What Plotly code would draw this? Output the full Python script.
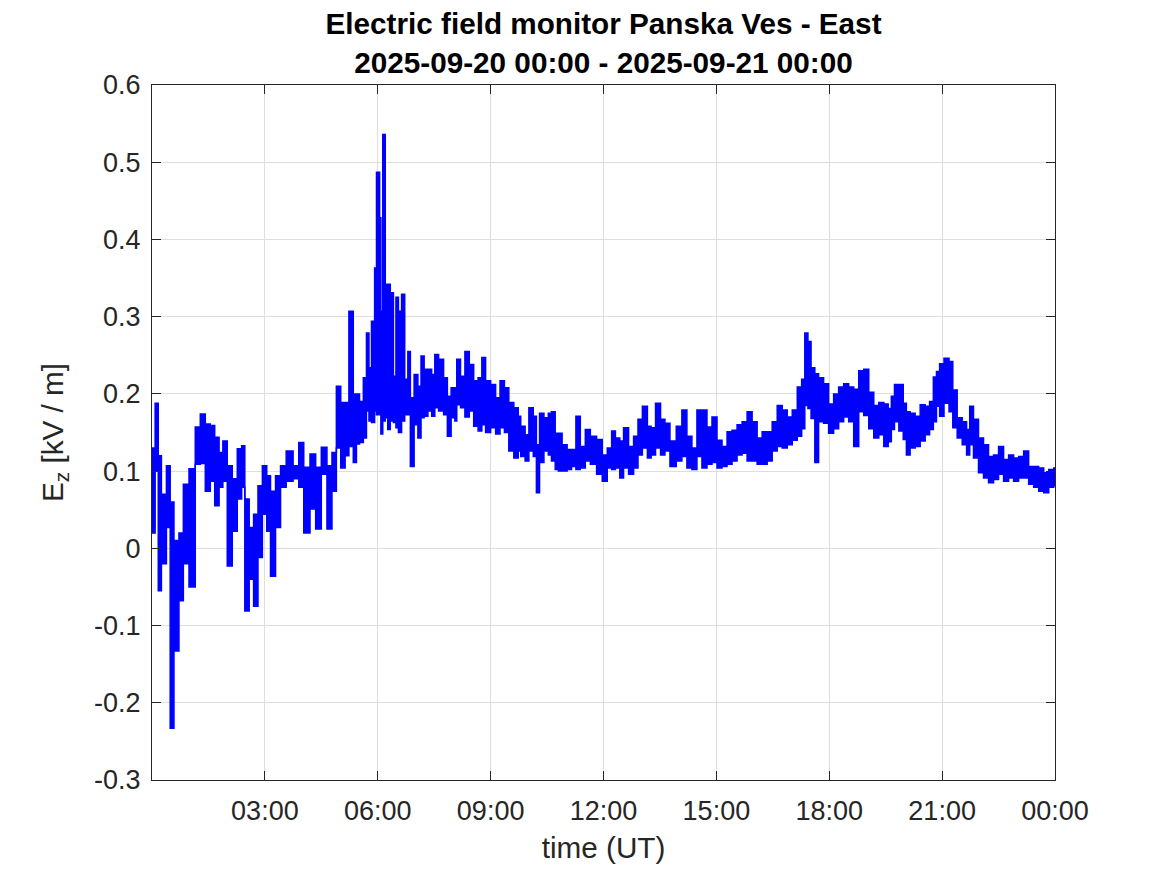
import pandas as pd
import plotly.graph_objects as go

# time of each sample bin, minutes after 2025-09-20 00:00 UT
minutes = [0, 5, 10, 15, 23, 29, 35, 43, 50, 59, 69, 77, 85, 93, 100, 107, 113, 120, 128, 136,
           143, 148, 155, 162, 169, 176, 183, 189, 197, 205, 214, 225, 234, 242, 252, 261, 270, 279, 287, 294,
           301, 308, 314, 321, 326, 331, 337, 342, 346, 350, 355, 358, 363, 365, 368, 372, 376, 380, 385, 389,
           393, 398, 403, 408, 412, 418, 424, 429, 434, 440, 446, 451, 457, 465, 471, 477, 483, 486, 492, 499,
           506, 513, 520, 526, 532, 540, 548, 555, 562, 569, 577, 584, 588, 595, 601, 608, 613, 618, 625, 632,
           637, 643, 648, 654, 662, 669, 676, 683, 691, 699, 709, 718, 726, 733, 739, 746, 752, 760, 768, 775,
           782, 790, 796, 803, 811, 818, 826, 836, 845, 853, 861, 869, 877, 885, 893, 901, 909, 917, 925, 933,
           941, 949, 957, 965, 973, 981, 989, 997, 1005, 1013, 1021, 1029, 1036, 1041, 1046, 1051, 1057, 1063, 1071, 1079,
           1087, 1095, 1103, 1111, 1119, 1127, 1135, 1143, 1151, 1159, 1167, 1174, 1179, 1184, 1191, 1198, 1203, 1209, 1217, 1225,
           1233, 1240, 1246, 1251, 1256, 1263, 1271, 1277, 1284, 1292, 1299, 1304, 1310, 1318, 1326, 1334, 1342, 1350, 1358, 1366,
           1374, 1382, 1390, 1398, 1406, 1414, 1422, 1430, 1438, 1440]

# maximum of Ez within each bin [kV/m]
ez_max = [0.13, 0.188, 0.12, 0.07, 0.107, 0.06, 0.01, 0.02, 0.083, 0.103, 0.157, 0.174, 0.161, 0.159, 0.144, 0.124, 0.139, 0.107, 0.09, 0.129,
          0.133, 0.064, 0.027, 0.044, 0.081, 0.107, 0.094, 0.074, 0.094, 0.107, 0.126, 0.107, 0.137, 0.105, 0.122, 0.105, 0.131, 0.107, 0.124, 0.21,
          0.189, 0.189, 0.307, 0.2, 0.2, 0.19, 0.221, 0.279, 0.234, 0.294, 0.363, 0.487, 0.428, 0.307, 0.536, 0.342, 0.342, 0.331, 0.223, 0.325,
          0.307, 0.329, 0.219, 0.255, 0.195, 0.225, 0.21, 0.249, 0.232, 0.232, 0.225, 0.251, 0.245, 0.221, 0.197, 0.208, 0.208, 0.245, 0.223, 0.255,
          0.238, 0.217, 0.221, 0.247, 0.217, 0.212, 0.195, 0.217, 0.208, 0.189, 0.182, 0.171, 0.158, 0.147, 0.182, 0.171, 0.134, 0.175, 0.169, 0.175,
          0.177, 0.149, 0.149, 0.134, 0.128, 0.128, 0.171, 0.132, 0.154, 0.145, 0.141, 0.121, 0.13, 0.152, 0.143, 0.139, 0.156, 0.132, 0.145, 0.167,
          0.184, 0.158, 0.156, 0.188, 0.167, 0.162, 0.139, 0.158, 0.179, 0.145, 0.13, 0.179, 0.179, 0.157, 0.17, 0.14, 0.132, 0.151, 0.153, 0.16,
          0.164, 0.177, 0.164, 0.143, 0.151, 0.151, 0.164, 0.185, 0.179, 0.17, 0.179, 0.209, 0.219, 0.279, 0.268, 0.234, 0.226, 0.221, 0.213, 0.187,
          0.2, 0.209, 0.213, 0.209, 0.206, 0.23, 0.232, 0.202, 0.185, 0.189, 0.187, 0.181, 0.197, 0.212, 0.212, 0.188, 0.177, 0.175, 0.171, 0.186,
          0.184, 0.19, 0.222, 0.229, 0.239, 0.246, 0.242, 0.205, 0.169, 0.164, 0.154, 0.184, 0.167, 0.143, 0.134, 0.119, 0.121, 0.132, 0.115, 0.121,
          0.117, 0.119, 0.126, 0.106, 0.106, 0.104, 0.098, 0.102, 0.104, 0.1]

# minimum of Ez within each bin [kV/m]
ez_min = [0.02, 0.10, -0.055, -0.02, 0.027, -0.233, -0.133, -0.068, -0.02, -0.05, 0.109, 0.11, 0.074, 0.087, 0.055, 0.079, 0.087, -0.023, 0.022, 0.064,
          0.079, -0.081, -0.04, -0.075, -0.012, 0.044, 0.022, -0.036, 0.027, 0.079, 0.087, 0.09, 0.079, 0.02, 0.051, 0.025, 0.096, 0.025, 0.074, 0.13,
          0.104, 0.12, 0.132, 0.111, 0.135, 0.137, 0.143, 0.178, 0.165, 0.163, 0.178, 0.173, 0.182, 0.148, 0.165, 0.169, 0.154, 0.165, 0.163, 0.156,
          0.15, 0.165, 0.173, 0.173, 0.106, 0.16, 0.143, 0.169, 0.171, 0.178, 0.171, 0.182, 0.178, 0.173, 0.145, 0.169, 0.165, 0.186, 0.182, 0.17,
          0.178, 0.158, 0.152, 0.16, 0.15, 0.156, 0.148, 0.156, 0.15, 0.126, 0.117, 0.126, 0.119, 0.113, 0.126, 0.119, 0.072, 0.111, 0.126, 0.121,
          0.113, 0.102, 0.1, 0.1, 0.102, 0.106, 0.102, 0.104, 0.113, 0.109, 0.096, 0.087, 0.104, 0.102, 0.104, 0.091, 0.104, 0.096, 0.104, 0.121,
          0.13, 0.117, 0.121, 0.13, 0.121, 0.126, 0.106, 0.113, 0.119, 0.104, 0.102, 0.119, 0.104, 0.109, 0.111, 0.104, 0.106, 0.109, 0.113, 0.121,
          0.123, 0.113, 0.113, 0.109, 0.109, 0.113, 0.126, 0.132, 0.13, 0.134, 0.14, 0.145, 0.155, 0.185, 0.181, 0.168, 0.111, 0.164, 0.162, 0.149,
          0.155, 0.164, 0.17, 0.164, 0.132, 0.177, 0.172, 0.155, 0.143, 0.147, 0.132, 0.138, 0.154, 0.164, 0.152, 0.141, 0.121, 0.13, 0.132, 0.139,
          0.147, 0.154, 0.164, 0.184, 0.171, 0.188, 0.177, 0.156, 0.143, 0.134, 0.121, 0.134, 0.117, 0.098, 0.091, 0.085, 0.089, 0.096, 0.087, 0.091,
          0.087, 0.091, 0.091, 0.083, 0.079, 0.074, 0.072, 0.079, 0.081, 0.085]

x_tick_hours = [3, 6, 9, 12, 15, 18, 21, 24]
x_tick_labels = ["03:00", "06:00", "09:00", "12:00", "15:00", "18:00", "21:00", "00:00"]
y_tick_values = [-0.3, -0.2, -0.1, 0, 0.1, 0.2, 0.3, 0.4, 0.5, 0.6]
y_tick_labels = ["-0.3", "-0.2", "-0.1", "0", "0.1", "0.2", "0.3", "0.4", "0.5", "0.6"]

base = pd.Timestamp("2025-09-20 00:00")
times = base + pd.to_timedelta(minutes, unit="min")
tick_times = [base + pd.Timedelta(hours=h) for h in x_tick_hours]

BLUE = "#0000FF"
AX = "#262626"
FONT = "Liberation Sans, Arial, sans-serif"

fig = go.Figure()
fig.add_trace(go.Scatter(x=times, y=ez_min, mode="lines",
                         line=dict(color=BLUE, width=1.5, shape="hv"),
                         showlegend=False, hoverinfo="skip"))
fig.add_trace(go.Scatter(x=times, y=ez_max, mode="lines",
                         line=dict(color=BLUE, width=1.5, shape="hv"),
                         fill="tonexty", fillcolor=BLUE,
                         showlegend=False, hoverinfo="skip"))

axis_common = dict(
    showgrid=True, gridcolor="#dedede", gridwidth=1,
    showline=True, linecolor=AX, linewidth=1.2, mirror="ticks",
    ticks="inside", ticklen=9, tickcolor=AX, tickwidth=1.2,
    tickfont=dict(family=FONT, size=27, color=AX),
    zeroline=False,
)

fig.update_layout(
    width=1159, height=867,
    margin=dict(l=144, r=112, t=77, b=95),
    paper_bgcolor="white", plot_bgcolor="white",
    font=dict(family=FONT, color=AX),
    title=dict(
        text="<b>Electric field monitor Panska Ves - East<br>2025-09-20 00:00 - 2025-09-21 00:00</b>",
        font=dict(family=FONT, size=29.7, color="black"),
        x=0.5, xref="paper", xanchor="center",
        y=1, yref="paper", yanchor="bottom",
        pad=dict(b=51),
    ),
    xaxis=dict(
        **axis_common,
        range=[base, base + pd.Timedelta(hours=24)],
        tickvals=tick_times, ticktext=x_tick_labels,
        ticklabelstandoff=6,
        title=dict(text="time (UT)", font=dict(family=FONT, size=29.7, color=AX), standoff=12),
    ),
    yaxis=dict(
        **axis_common,
        range=[-0.3, 0.6],
        tickvals=y_tick_values, ticktext=y_tick_labels,
        ticklabelstandoff=5,
        title=dict(text="E<sub>z</sub> [kV / m]", font=dict(family=FONT, size=29.7, color=AX), standoff=21),
    ),
)

fig.write_html("out.html")
